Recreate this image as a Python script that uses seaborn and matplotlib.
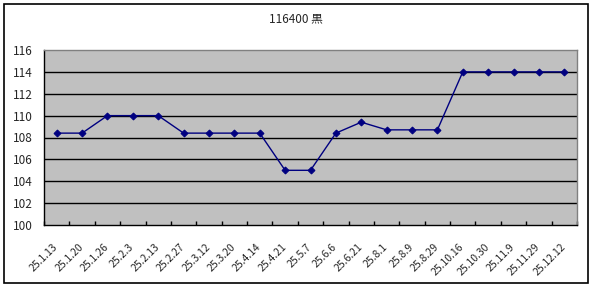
import matplotlib
matplotlib.use("Agg")
import matplotlib.pyplot as plt
import seaborn as sns
import pandas as pd
import numpy as np
from matplotlib.patches import Rectangle
from matplotlib.transforms import ScaledTranslation

dates = ["25.1.13", "25.1.20", "25.1.26", "25.2.3", "25.2.13", "25.2.27", "25.3.12", "25.3.20",
         "25.4.14", "25.4.21", "25.5.7", "25.6.6", "25.6.21", "25.8.1", "25.8.9", "25.8.29",
         "25.10.16", "25.10.30", "25.11.9", "25.11.29", "25.12.12"]
prices = [108.4, 108.4, 110, 110, 110, 108.4, 108.4, 108.4, 108.4, 105, 105, 108.4, 109.4,
          108.7, 108.7, 108.7, 114, 114, 114, 114, 114]
title = "116400 黒"
yticks = [100, 102, 104, 106, 108, 110, 112, 114, 116]

sns.set_theme(style="white")
plt.rcParams['font.family'] = ['Noto Sans CJK JP', 'DejaVu Sans']

df = pd.DataFrame({"date": dates, "price": prices, "idx": np.arange(len(dates))})

fig = plt.figure(figsize=(5.92, 2.88), dpi=100)
ax = fig.add_axes([44/592, 1-225/288, (577-44)/592, (225-50)/288])
ax.set_facecolor("#c0c0c0")

sns.lineplot(data=df, x="idx", y="price", ax=ax, color="#000080", linewidth=1,
             marker="D", markersize=3.5, markeredgecolor="#000080", markerfacecolor="#000080")

n = len(dates)
ax.set_xlim(-0.5, n - 0.5)
ax.set_ylim(100, 116)
ax.set_yticks(yticks)
ax.set_yticklabels([str(v) for v in yticks], fontsize=8.5)
ax.set_xticks(np.arange(n))
ax.set_xticklabels(dates, rotation=45, ha="right", rotation_mode="anchor", fontsize=7.5)
ax.set_xticks(np.arange(n + 1) - 0.5, minor=True)
ax.tick_params(axis="x", which="major", length=0, pad=12)
ax.tick_params(axis="x", which="minor", direction="in", length=3, color="black", bottom=True)
ax.tick_params(axis="y", length=0, pad=8)
offset = ScaledTranslation(-4/100, 0, fig.dpi_scale_trans)
for lab in ax.get_xticklabels():
    lab.set_transform(lab.get_transform() + offset)
ax.set_xlabel("")
ax.set_ylabel("")
for v in yticks[1:-1]:
    ax.axhline(v, color="black", linewidth=1, zorder=1)
for side in ["top", "right"]:
    ax.spines[side].set_color("#808080")
    ax.spines[side].set_linewidth(1)
for side in ["left", "bottom"]:
    ax.spines[side].set_color("black")
    ax.spines[side].set_linewidth(1)

fig.text(0.5, 1 - 19/288, title, ha="center", va="center", fontsize=8.5)
fig.patches.append(Rectangle((4/592, 5/288), 584/592, 279/288, transform=fig.transFigure,
                             fill=False, edgecolor="black", linewidth=1.2))

fig.savefig("out.png", dpi=100)
